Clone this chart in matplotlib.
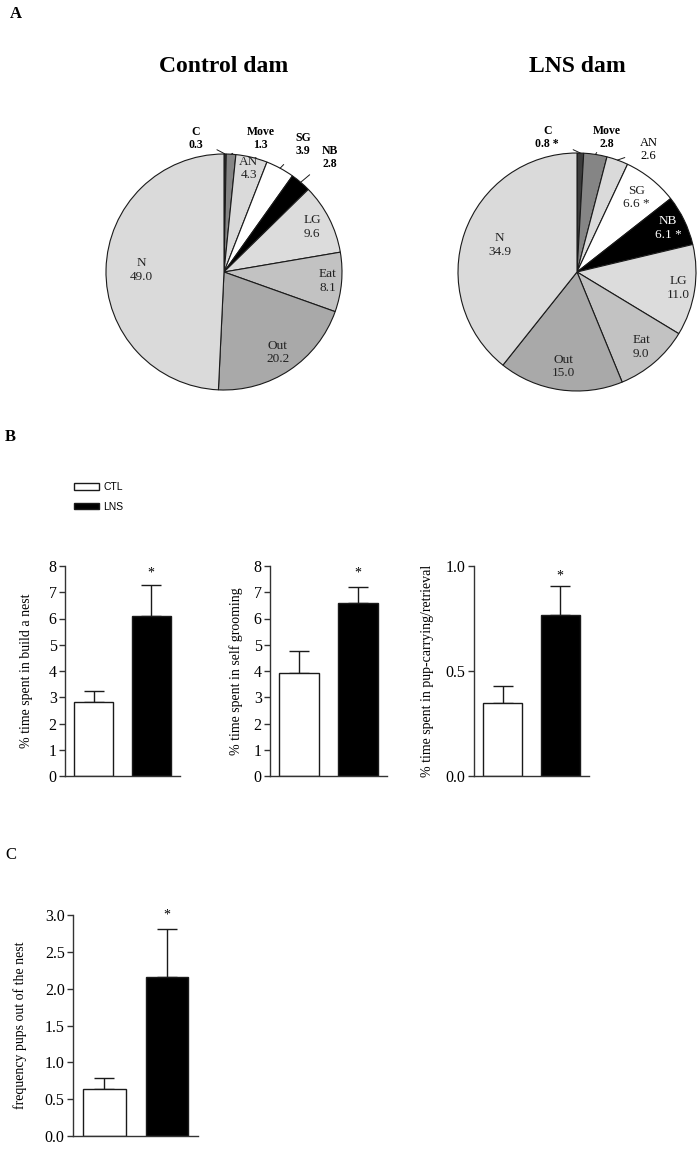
import numpy as np
import matplotlib
matplotlib.use("Agg")
import matplotlib.pyplot as plt

plt.rcParams['font.family'] = ['Liberation Serif', 'DejaVu Serif']

# pie data, clockwise from 12 o'clock
behaviours = ['C', 'Move', 'AN', 'SG', 'NB', 'LG', 'Eat', 'Out', 'N']
ctl_pct = [0.3, 1.3, 4.3, 3.9, 2.8, 9.6, 8.1, 20.2, 49.0]
lns_pct = [0.8, 2.8, 2.6, 6.6, 6.1, 11.0, 9.0, 15.0, 34.9]
lns_star = ['C', 'SG', 'NB']
wedge_colors = ['#3c3c3c', '#858585', '#dadada', '#ffffff', '#000000',
                '#dcdcdc', '#c2c2c2', '#a9a9a9', '#dadada']

# bar data
groups = ['CTL', 'LNS']
nest_mean = [2.83, 6.10]
nest_err = [0.39, 1.17]
groom_mean = [3.92, 6.60]
groom_err = [0.84, 0.60]
carry_mean = [0.35, 0.765]
carry_err = [0.08, 0.14]
pups_mean = [0.64, 2.16]
pups_err = [0.15, 0.65]

W, H = 699, 1174
fig = plt.figure(figsize=(W / 100, H / 100), dpi=100)


def px_axes(left, right, top, bottom):
    return fig.add_axes([left / W, 1 - bottom / H, (right - left) / W, (bottom - top) / H])


def draw_pie(cx, cy, r, values, bold_out, out_pos, inner_r, stars, title):
    half = 1.5 * r
    ax = px_axes(cx - half, cx + half, cy - half, cy + half)
    wedges, _ = ax.pie(values, colors=wedge_colors, startangle=90, counterclock=False,
                       wedgeprops=dict(edgecolor='#1a1a1a', linewidth=0.8))
    ax.set_xlim(-1.5, 1.5)
    ax.set_ylim(-1.5, 1.5)
    ax.set_aspect('equal')
    ax.axis('off')
    for w, name, v in zip(wedges, behaviours, values):
        lab = '{}\n{:.1f}'.format(name, v) + (' *' if name in stars else '')
        mid = np.deg2rad((w.theta1 + w.theta2) / 2)
        if name in out_pos:
            tx, ty = out_pos[name]
            ex, ey = np.cos(mid), np.sin(mid)
            bold = name in bold_out
            ax.annotate(lab, xy=(ex, ey), xytext=(tx, ty), ha='center', va='center',
                        fontsize=8.5 if bold else 9, fontweight='bold' if bold else 'normal',
                        linespacing=1.05,
                        arrowprops=dict(arrowstyle='-', lw=0.7, color='#1a1a1a',
                                        shrinkA=9, shrinkB=0))
        else:
            rr = inner_r.get(name, 0.82)
            ax.text(rr * np.cos(mid), rr * np.sin(mid), lab, ha='center', va='center',
                    fontsize=9.5, linespacing=1.15,
                    color='white' if name == 'NB' else '#222222')
    fig.text(cx / W, 1 - 67 / H, title, ha='center', va='center',
             fontsize=17, fontweight='bold')


draw_pie(224, 272, 118, ctl_pct,
         bold_out=['C', 'Move', 'SG', 'NB'],
         out_pos={'C': (-0.24, 1.13), 'Move': (0.31, 1.13), 'SG': (0.67, 1.08), 'NB': (0.9, 0.97)},
         inner_r={'AN': 0.9, 'LG': 0.84, 'Eat': 0.88, 'Out': 0.82, 'N': 0.7},
         stars=[], title='Control dam')
draw_pie(577, 272, 119, lns_pct,
         bold_out=['C', 'Move'],
         out_pos={'C': (-0.25, 1.13), 'Move': (0.25, 1.13), 'AN': (0.6, 1.03)},
         inner_r={'SG': 0.8, 'NB': 0.85, 'LG': 0.86, 'Eat': 0.83, 'Out': 0.8, 'N': 0.69},
         stars=lns_star, title='LNS dam')


def draw_bars(ax, means, errs, ymax, yticks, ticklabels, ylabel, star_y, label_x):
    x = np.arange(len(groups))
    bars = ax.bar(x, means, width=0.68, color=['white', 'black'], edgecolor='#1a1a1a',
                  linewidth=1.0, zorder=2)
    ax.errorbar(x, means, yerr=[[0] * len(errs), errs], fmt='none', ecolor='#1a1a1a',
                elinewidth=1.0, capsize=7, capthick=1.0, zorder=1)
    ax.text(x[1], star_y, '*', ha='center', va='center', fontsize=10)
    ax.set_xlim(-0.5, 1.5)
    ax.set_ylim(0, ymax)
    ax.set_yticks(yticks)
    ax.set_yticklabels(ticklabels)
    ax.set_xticks([])
    for s in ['top', 'right']:
        ax.spines[s].set_visible(False)
    for s in ['left', 'bottom']:
        ax.spines[s].set_linewidth(1.0)
        ax.spines[s].set_color('#333333')
    ax.tick_params(axis='y', length=4, width=1.0, color='#333333', labelsize=11.5, pad=2)
    ax.set_ylabel(ylabel, fontsize=10)
    ax.yaxis.set_label_coords(label_x, 0.5)
    ax.patch.set_alpha(0)
    return bars


ax1 = px_axes(65, 180, 566, 776)
bars = draw_bars(ax1, nest_mean, nest_err, 8, range(9), [str(i) for i in range(9)],
                 '% time spent in build a nest', 7.75, -0.28)
ax2 = px_axes(270, 387, 566, 776)
draw_bars(ax2, groom_mean, groom_err, 8, range(9), [str(i) for i in range(9)],
          '% time spent in self grooming', 7.75, -0.23)
ax3 = px_axes(474, 589, 566, 776)
draw_bars(ax3, carry_mean, carry_err, 1.0, [0, 0.5, 1.0], ['0.0', '0.5', '1.0'],
          '% time spent in pup-carrying/retrieval', 0.95, -0.35)
ax4 = px_axes(73, 198, 915, 1136)
draw_bars(ax4, pups_mean, pups_err, 3.0, np.arange(0, 3.01, 0.5),
          ['{:.1f}'.format(v) for v in np.arange(0, 3.01, 0.5)],
          'frequency pups out of the nest', 3.0, -0.37)

fig.legend(bars, groups, loc='upper left', bbox_to_anchor=(70 / W, 1 - 478 / H),
           frameon=False, prop={'family': 'Liberation Sans', 'size': 7.5},
           handlelength=2.4, handleheight=0.6, handletextpad=0.4, labelspacing=0.9,
           borderaxespad=0)

fig.text(10 / W, 1 - 14 / H, 'A', fontsize=12, fontweight='bold', va='center')
fig.text(5 / W, 1 - 437 / H, 'B', fontsize=12, fontweight='bold', va='center')
fig.text(5 / W, 1 - 855 / H, 'C', fontsize=12, va='center')

fig.savefig('out.png', dpi=100)
